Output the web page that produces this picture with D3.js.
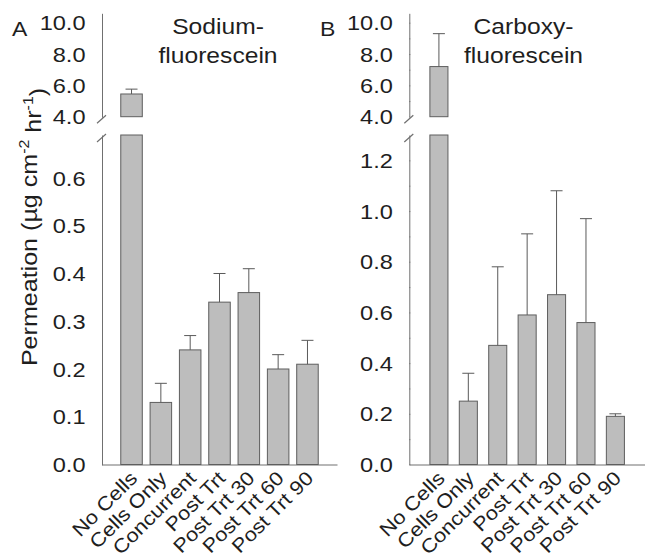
<!DOCTYPE html>
<html>
<head>
<meta charset="utf-8">
<script src="https://cdn.jsdelivr.net/npm/d3@7"></script>
<style>
  html, body { margin: 0; padding: 0; background: #fff; }
  svg { display: block; }
  text { font-family: "Liberation Sans", Arial, sans-serif; fill: #1e1e1e; }
</style>
</head>
<body>
<svg id="chart" width="645" height="560"></svg>
<script>
// ---------- data ----------
const categories = ["No Cells", "Cells Only", "Concurrent", "Post Trt", "Post Trt 30", "Post Trt 60", "Post Trt 90"];
const sodiumMeans = [5.45, 0.13, 0.24, 0.34, 0.36, 0.20, 0.21];
const sodiumErrors = [0.31, 0.04, 0.03, 0.06, 0.05, 0.03, 0.05];
const carboxyMeans = [7.2, 0.25, 0.47, 0.59, 0.67, 0.56, 0.19];
const carboxyErrors = [2.1, 0.11, 0.31, 0.32, 0.41, 0.41, 0.01];
const upperTicks = [4, 6, 8, 10];
const upperMinorTicks = [5, 7, 9];
const lowerTicksA = [0, 0.1, 0.2, 0.3, 0.4, 0.5, 0.6];
const lowerMinorTicksA = [0.05, 0.15, 0.25, 0.35, 0.45, 0.55, 0.65];
const lowerTicksB = [0, 0.2, 0.4, 0.6, 0.8, 1.0, 1.2];
const lowerMinorTicksB = [0.1, 0.3, 0.5, 0.7, 0.9, 1.1];
const panelLetters = ["A", "B"];
const titlesA = ["Sodium-", "fluorescein"];
const titlesB = ["Carboxy-", "fluorescein"];
const yLabel = { main: "Permeation (µg cm", sup1: "-2", mid: " hr", sup2: "-1", end: ")" };

// ---------- styles ----------
const BAR_FILL = "#bdbdbd", BAR_STROKE = "#5e5e5e", AXIS = "#707070", ERR = "#5a5a5a";
const svg = d3.select("#chart");

const upperRange = [116.7, 13.3];
const baseY = 464.5, lowerTop = 135;

const panels = [
  { letter: panelLetters[0], titles: titlesA, means: sodiumMeans, errs: sodiumErrors,
    x0: 102, x1: 337, pi: 0.266, po: 0.64, lowerMax: 0.69,
    ticks: lowerTicksA, minor: lowerMinorTicksA, titleX: 218, letterX: 12 },
  { letter: panelLetters[1], titles: titlesB, means: carboxyMeans, errs: carboxyErrors,
    x0: 409.3, x1: 645, pi: 0.386, po: 0.7, lowerMax: 1.3,
    ticks: lowerTicksB, minor: lowerMinorTicksB, titleX: 523.5, letterX: 320 }
];

const fmt = d3.format(".1f");

function stretchLabels(sel, sx, off) {
  sel.selectAll(".tick text")
    .attr("x", 0)
    .attr("dy", "0.35em")
    .attr("transform", `translate(${off},0) scale(${sx},1)`)
    .style("font-size", "20.5px")
    .style("fill", "#1e1e1e");
}

panels.forEach(p => {
  const x = d3.scaleBand().domain(categories).range([p.x0, p.x1])
    .paddingInner(p.pi).paddingOuter(p.po).align(0.5);
  const yU = d3.scaleLinear().domain([4, 10.6]).range(upperRange);
  const yL = d3.scaleLinear().domain([0, p.lowerMax]).range([baseY, lowerTop]).clamp(true);

  const g = svg.append("g");

  // upper axis
  const axU = g.append("g").attr("transform", `translate(${p.x0},0)`)
    .call(d3.axisLeft(yU).tickValues(upperTicks).tickFormat(fmt).tickSizeOuter(0).tickSizeInner(5));
  axU.select(".domain").attr("stroke", AXIS);
  axU.selectAll(".tick line").attr("stroke", AXIS).attr("x2", 1);
  stretchLabels(axU, 1.15, -16.5);
  const axUm = g.append("g").attr("transform", `translate(${p.x0},0)`)
    .call(d3.axisLeft(yU).tickValues(upperMinorTicks).tickFormat("").tickSizeOuter(0).tickSizeInner(3));
  axUm.select(".domain").remove();
  axUm.selectAll(".tick line").attr("stroke", AXIS).attr("x2", 1);

  // lower axis
  const axL = g.append("g").attr("transform", `translate(${p.x0},0)`)
    .call(d3.axisLeft(yL).tickValues(p.ticks).tickFormat(fmt).tickSizeOuter(0).tickSizeInner(5));
  axL.select(".domain").attr("stroke", AXIS);
  axL.selectAll(".tick line").attr("stroke", AXIS).attr("x2", 1);
  stretchLabels(axL, 1.15, -16.5);
  const axLm = g.append("g").attr("transform", `translate(${p.x0},0)`)
    .call(d3.axisLeft(yL).tickValues(p.minor).tickFormat("").tickSizeOuter(0).tickSizeInner(3));
  axLm.select(".domain").remove();
  axLm.selectAll(".tick line").attr("stroke", AXIS).attr("x2", 1);

  // break marks
  [yU(4) + 2.5, yL(p.lowerMax) + 3].forEach(yy => {
    g.append("line").attr("x1", p.x0 - 5).attr("y1", yy + 4).attr("x2", p.x0 + 4).attr("y2", yy - 4)
      .attr("stroke", AXIS).attr("stroke-width", 1.2);
  });

  // x axis line
  const axX = g.append("g").attr("transform", `translate(0,${baseY})`)
    .call(d3.axisBottom(x).tickSize(0).tickFormat(""));
  axX.select(".domain").attr("stroke", AXIS).attr("stroke-width", 1.2);

  // bars
  categories.forEach((c, i) => {
    const v = p.means[i], e = p.errs[i];
    const bx = x(c), bw = x.bandwidth(), cx = bx + bw / 2;
    const capW = 12;
    if (v > 4) {
      g.append("rect").attr("x", bx).attr("y", yL(p.lowerMax)).attr("width", bw)
        .attr("height", yL(0) - yL(p.lowerMax)).attr("fill", BAR_FILL).attr("stroke", BAR_STROKE);
      g.append("rect").attr("x", bx).attr("y", yU(v)).attr("width", bw)
        .attr("height", yU(4) - yU(v)).attr("fill", BAR_FILL).attr("stroke", BAR_STROKE);
      g.append("line").attr("x1", cx).attr("x2", cx).attr("y1", yU(v)).attr("y2", yU(v + e)).attr("stroke", ERR);
      g.append("line").attr("x1", cx - capW / 2).attr("x2", cx + capW / 2).attr("y1", yU(v + e)).attr("y2", yU(v + e)).attr("stroke", ERR);
    } else {
      g.append("rect").attr("x", bx).attr("y", yL(v)).attr("width", bw)
        .attr("height", yL(0) - yL(v)).attr("fill", BAR_FILL).attr("stroke", BAR_STROKE);
      g.append("line").attr("x1", cx).attr("x2", cx).attr("y1", yL(v)).attr("y2", yL(v + e)).attr("stroke", ERR);
      g.append("line").attr("x1", cx - capW / 2).attr("x2", cx + capW / 2).attr("y1", yL(v + e)).attr("y2", yL(v + e)).attr("stroke", ERR);
    }
    // category label
    g.append("text")
      .attr("transform", `translate(${cx + 7},${baseY + 15}) rotate(-45) scale(1.12,1)`)
      .attr("text-anchor", "end")
      .style("font-size", "19.5px")
      .text(c);
  });

  // titles
  p.titles.forEach((t, k) => {
    g.append("text")
      .attr("transform", `translate(${p.titleX},${33.5 + k * 29}) scale(1.12,1)`)
      .attr("text-anchor", "middle")
      .style("font-size", "22px")
      .text(t);
  });
  // panel letter
  g.append("text")
    .attr("transform", `translate(${p.letterX},35.5) scale(1.15,1)`)
    .style("font-size", "20px")
    .text(p.letter);
});

// y axis label
const yl = svg.append("text")
  .attr("transform", `translate(36.5,227) rotate(-90) scale(1.14,1)`)
  .attr("text-anchor", "middle")
  .style("font-size", "22px");
yl.append("tspan").text(yLabel.main);
yl.append("tspan").attr("dy", "-0.55em").style("font-size", "14px").text(yLabel.sup1);
yl.append("tspan").attr("dy", "0.55em").text(yLabel.mid);
yl.append("tspan").attr("dy", "-0.55em").style("font-size", "14px").text(yLabel.sup2);
yl.append("tspan").attr("dy", "0.55em").text(yLabel.end);
</script>
</body>
</html>
